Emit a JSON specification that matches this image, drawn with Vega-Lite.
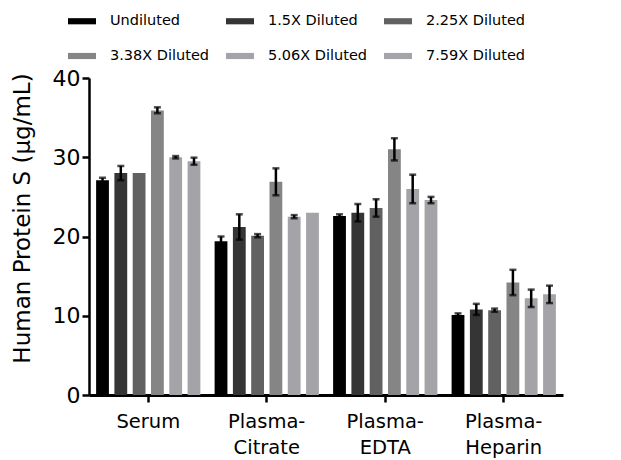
{
  "$schema": "https://vega.github.io/schema/vega-lite/v6.json",
  "autosize": "none",
  "width": 474,
  "height": 317,
  "padding": {"left": 89, "top": 78, "right": 58, "bottom": 65},
  "background": "white",
  "config": {
    "view": {"stroke": null},
    "font": "DejaVu Sans",
    "axis": {
      "domainColor": "black", "domainWidth": 2.5, "tickColor": "black", "tickWidth": 2.5,
      "tickSize": 7, "labelColor": "black", "titleColor": "black", "grid": false,
      "labelFont": "DejaVu Sans", "titleFont": "DejaVu Sans", "titleFontWeight": "normal"
    }
  },
  "data": {"values": [
    {"group": "Serum", "dilution": "Undiluted", "value": 27.1, "lo": 26.8, "hi": 27.4},
    {"group": "Serum", "dilution": "1.5X Diluted", "value": 28.0, "lo": 27.1, "hi": 28.9},
    {"group": "Serum", "dilution": "2.25X Diluted", "value": 28.0, "lo": null, "hi": null},
    {"group": "Serum", "dilution": "3.38X Diluted", "value": 35.9, "lo": 35.55, "hi": 36.3},
    {"group": "Serum", "dilution": "5.06X Diluted", "value": 30.0, "lo": 29.85, "hi": 30.15},
    {"group": "Serum", "dilution": "7.59X Diluted", "value": 29.5, "lo": 29.05, "hi": 29.95},
    {"group": "Plasma-Citrate", "dilution": "Undiluted", "value": 19.4, "lo": 18.8, "hi": 20.0},
    {"group": "Plasma-Citrate", "dilution": "1.5X Diluted", "value": 21.2, "lo": 19.6, "hi": 22.8},
    {"group": "Plasma-Citrate", "dilution": "2.25X Diluted", "value": 20.1, "lo": 19.9, "hi": 20.3},
    {"group": "Plasma-Citrate", "dilution": "3.38X Diluted", "value": 26.9, "lo": 25.2, "hi": 28.6},
    {"group": "Plasma-Citrate", "dilution": "5.06X Diluted", "value": 22.5, "lo": 22.3, "hi": 22.7},
    {"group": "Plasma-Citrate", "dilution": "7.59X Diluted", "value": 23.0, "lo": null, "hi": null},
    {"group": "Plasma-EDTA", "dilution": "Undiluted", "value": 22.6, "lo": 22.4, "hi": 22.8},
    {"group": "Plasma-EDTA", "dilution": "1.5X Diluted", "value": 23.0, "lo": 21.9, "hi": 24.1},
    {"group": "Plasma-EDTA", "dilution": "2.25X Diluted", "value": 23.6, "lo": 22.5, "hi": 24.7},
    {"group": "Plasma-EDTA", "dilution": "3.38X Diluted", "value": 31.0, "lo": 29.6, "hi": 32.4},
    {"group": "Plasma-EDTA", "dilution": "5.06X Diluted", "value": 26.0, "lo": 24.2, "hi": 27.8},
    {"group": "Plasma-EDTA", "dilution": "7.59X Diluted", "value": 24.6, "lo": 24.2, "hi": 25.0},
    {"group": "Plasma-Heparin", "dilution": "Undiluted", "value": 10.1, "lo": 9.9, "hi": 10.3},
    {"group": "Plasma-Heparin", "dilution": "1.5X Diluted", "value": 10.8, "lo": 10.1, "hi": 11.5},
    {"group": "Plasma-Heparin", "dilution": "2.25X Diluted", "value": 10.7, "lo": 10.5, "hi": 10.9},
    {"group": "Plasma-Heparin", "dilution": "3.38X Diluted", "value": 14.2, "lo": 12.6, "hi": 15.8},
    {"group": "Plasma-Heparin", "dilution": "5.06X Diluted", "value": 12.2, "lo": 11.1, "hi": 13.3},
    {"group": "Plasma-Heparin", "dilution": "7.59X Diluted", "value": 12.7, "lo": 11.6, "hi": 13.8}
  ]},
  "encoding": {
    "x": {
      "field": "group", "type": "nominal",
      "sort": ["Serum", "Plasma-Citrate", "Plasma-EDTA", "Plasma-Heparin"],
      "scale": {"paddingInner": 0.12, "paddingOuter": 0.06},
      "axis": {
        "title": null, "labelAngle": 0, "labelFontSize": 19.5, "labelLineHeight": 26,
        "labelPadding": 10, "domainWidth": 3,
        "labelExpr": "indexof(datum.label, '-') > 0 ? [slice(datum.label, 0, 7), slice(datum.label, 7)] : datum.label"
      }
    },
    "xOffset": {
      "field": "dilution", "type": "nominal",
      "sort": ["Undiluted", "1.5X Diluted", "2.25X Diluted", "3.38X Diluted", "5.06X Diluted", "7.59X Diluted"],
      "scale": {"paddingInner": 0.3, "paddingOuter": 0}
    }
  },
  "layer": [
    {
      "mark": {"type": "bar"},
      "encoding": {
        "y": {
          "field": "value", "type": "quantitative",
          "scale": {"domain": [0, 40], "nice": false},
          "axis": {
            "values": [0, 10, 20, 30, 40], "labelFontSize": 22, "labelPadding": 2,
            "title": "Human Protein S  (µg/mL)", "titleFontSize": 23,
            "titleX": -67, "titleY": 140, "titleAngle": -90, "titleAlign": "center", "titleBaseline": "middle"
          }
        },
        "color": {
          "field": "dilution", "type": "nominal",
          "sort": ["Undiluted", "1.5X Diluted", "2.25X Diluted", "3.38X Diluted", "5.06X Diluted", "7.59X Diluted"],
          "scale": {
            "domain": ["Undiluted", "1.5X Diluted", "2.25X Diluted", "3.38X Diluted", "5.06X Diluted", "7.59X Diluted"],
            "range": ["#000000", "#353535", "#616161", "#858585", "#a4a4a8", "#a4a4a8"]
          },
          "legend": {
            "title": null, "orient": "none", "direction": "horizontal", "columns": 3,
            "legendX": -21, "legendY": -71,
            "symbolType": "M-1,-0.22 L1,-0.22 L1,0.22 L-1,0.22 Z",
            "symbolSize": 784, "symbolStrokeWidth": 0, "symbolOpacity": 1,
            "labelFontSize": 14.5, "labelColor": "black", "labelOffset": 14,
            "labelLimit": 200, "columnPadding": 16, "rowPadding": 14,
            "labelExpr": "datum.label == '5.06X Diluted' ? '\u00a0\u00a0\u00a05.06X Diluted' : datum.label"
          }
        }
      }
    },
    {
      "mark": {"type": "rule", "color": "black", "strokeWidth": 2.5},
      "encoding": {"y": {"field": "lo", "type": "quantitative"}, "y2": {"field": "hi"}}
    },
    {
      "mark": {"type": "tick", "color": "black", "thickness": 2.5, "size": 7, "orient": "horizontal"},
      "encoding": {"y": {"field": "lo", "type": "quantitative"}}
    },
    {
      "mark": {"type": "tick", "color": "black", "thickness": 2.5, "size": 7, "orient": "horizontal"},
      "encoding": {"y": {"field": "hi", "type": "quantitative"}}
    }
  ]
}
